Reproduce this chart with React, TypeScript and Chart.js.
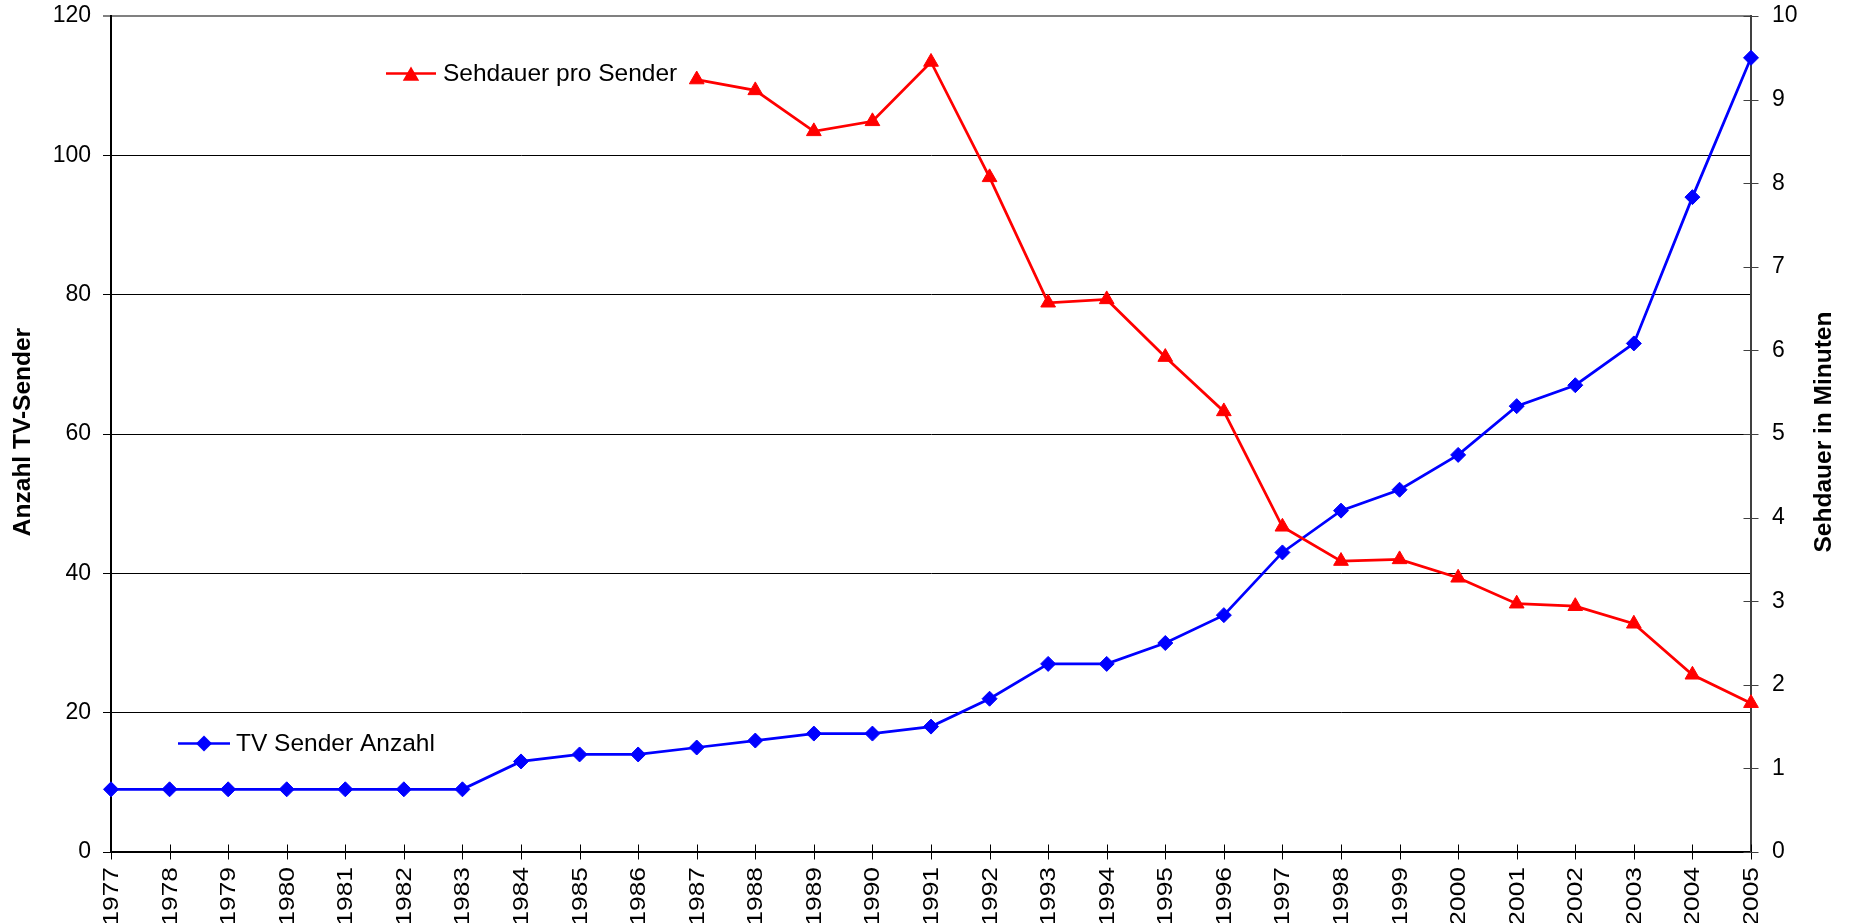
import React, { useEffect, useRef } from 'react';
import { Chart, registerables } from 'chart.js';

Chart.register(...registerables);

const years = [
  '1977', '1978', '1979', '1980', '1981', '1982', '1983', '1984', '1985', '1986',
  '1987', '1988', '1989', '1990', '1991', '1992', '1993', '1994', '1995', '1996',
  '1997', '1998', '1999', '2000', '2001', '2002', '2003', '2004', '2005',
];

const tvSenderAnzahl = [
  9, 9, 9, 9, 9, 9, 9, 13, 14, 14,
  15, 16, 17, 17, 18, 22, 27, 27, 30, 34,
  43, 49, 52, 57, 64, 67, 73, 94, 114,
];

const sehdauerProSender: (number | null)[] = [
  null, null, null, null, null, null, null, null, null, null,
  9.24, 9.11, 8.62, 8.74, 9.45, 8.07, 6.57, 6.61, 5.92, 5.27,
  3.89, 3.48, 3.50, 3.28, 2.97, 2.94, 2.73, 2.12, 1.78,
];

const leftTicks = [0, 20, 40, 60, 80, 100, 120];
const rightTicks = [0, 1, 2, 3, 4, 5, 6, 7, 8, 9, 10];

const labelBlue = 'TV Sender Anzahl';
const labelRed = 'Sehdauer pro Sender';
const titleLeft = 'Anzahl TV-Sender';
const titleRight = 'Sehdauer in Minuten';

const FONT = "'Liberation Sans', Arial, Helvetica, sans-serif";
const BLUE = '#0000FF';
const RED = '#FF0000';

function drawDiamond(ctx: CanvasRenderingContext2D, cx: number, cy: number, r: number, color: string) {
  ctx.beginPath();
  ctx.moveTo(cx, cy - r);
  ctx.lineTo(cx + r, cy);
  ctx.lineTo(cx, cy + r);
  ctx.lineTo(cx - r, cy);
  ctx.closePath();
  ctx.fillStyle = color;
  ctx.fill();
}

function drawTriangle(ctx: CanvasRenderingContext2D, cx: number, cy: number, r: number, color: string) {
  const s = r * Math.sin(Math.PI / 3);
  ctx.beginPath();
  ctx.moveTo(cx, cy - r);
  ctx.lineTo(cx + s, cy + r / 2);
  ctx.lineTo(cx - s, cy + r / 2);
  ctx.closePath();
  ctx.fillStyle = color;
  ctx.fill();
}

const overlayPlugin = {
  id: 'overlayPlugin',
  afterDraw(chart: any) {
    const ctx: CanvasRenderingContext2D = chart.ctx;
    const area = chart.chartArea;
    const xs = chart.scales.x;
    const y1 = chart.scales.y1;
    ctx.save();

    // crossing ticks on the category axis
    ctx.strokeStyle = '#000';
    ctx.lineWidth = 1;
    xs.ticks.forEach((_t: any, i: number) => {
      const px = Math.round(xs.getPixelForTick(i)) + 0.5;
      ctx.beginPath();
      ctx.moveTo(px, area.bottom - 7.5);
      ctx.lineTo(px, area.bottom + 7.5);
      ctx.stroke();
    });

    // category labels, rotated and drawn at the scale's tick positions
    ctx.fillStyle = '#000';
    ctx.font = `22px ${FONT}`;
    ctx.textAlign = 'right';
    ctx.textBaseline = 'middle';
    xs.ticks.forEach((t: any, i: number) => {
      const px = xs.getPixelForTick(i);
      ctx.save();
      ctx.translate(px + 1, area.bottom + 15);
      ctx.rotate(-Math.PI / 2);
      ctx.scale(1.2, 1);
      ctx.fillText(String(xs.getLabelForValue(t.value)), 0, 0);
      ctx.restore();
    });

    // crossing ticks on the right axis
    ctx.strokeStyle = '#404040';
    y1.ticks.forEach((t: any) => {
      const py = Math.round(y1.getPixelForValue(t.value)) + 0.5;
      ctx.beginPath();
      ctx.moveTo(area.right - 7.5, py);
      ctx.lineTo(area.right + 7.5, py);
      ctx.stroke();
    });

    // axis titles
    ctx.fillStyle = '#000';
    ctx.font = `bold 24.5px ${FONT}`;
    ctx.textAlign = 'center';
    ctx.textBaseline = 'middle';
    ctx.save();
    ctx.translate(23, 432);
    ctx.rotate(-Math.PI / 2);
    ctx.fillText(titleLeft, 0, 0);
    ctx.restore();
    ctx.save();
    ctx.translate(1824, 432);
    ctx.rotate(-Math.PI / 2);
    ctx.fillText(titleRight, 0, 0);
    ctx.restore();

    // inline legends
    ctx.lineWidth = 2.5;
    ctx.strokeStyle = RED;
    ctx.beginPath();
    ctx.moveTo(386, 73.5);
    ctx.lineTo(436, 73.5);
    ctx.stroke();
    drawTriangle(ctx, 411, 76, 9.5, RED);

    ctx.strokeStyle = BLUE;
    ctx.beginPath();
    ctx.moveTo(178, 743.5);
    ctx.lineTo(230, 743.5);
    ctx.stroke();
    drawDiamond(ctx, 204, 743.5, 8, BLUE);

    ctx.fillStyle = '#000';
    ctx.font = `24.5px ${FONT}`;
    ctx.textAlign = 'left';
    ctx.textBaseline = 'alphabetic';
    ctx.fillText(labelRed, 443, 81);
    ctx.fillText(labelBlue, 236, 751);

    ctx.restore();
  },
};

export default function App() {
  const canvasRef = useRef<HTMLCanvasElement | null>(null);

  useEffect(() => {
    const canvas = canvasRef.current;
    if (!canvas) return;
    const chart = new Chart(canvas, {
      type: 'line',
      data: {
        labels: years,
        datasets: [
          {
            label: labelBlue,
            data: tvSenderAnzahl,
            yAxisID: 'y',
            borderColor: BLUE,
            backgroundColor: BLUE,
            borderWidth: 2.75,
            pointStyle: 'rectRot',
            pointRadius: 7.5,
            pointBorderWidth: 1,
            pointBackgroundColor: BLUE,
            pointBorderColor: BLUE,
            tension: 0,
            fill: false,
            order: 1,
          },
          {
            label: labelRed,
            data: sehdauerProSender,
            yAxisID: 'y1',
            borderColor: RED,
            backgroundColor: RED,
            borderWidth: 2.75,
            pointStyle: 'triangle',
            pointRadius: 8.5,
            pointBorderWidth: 1,
            pointBackgroundColor: RED,
            pointBorderColor: RED,
            tension: 0,
            fill: false,
            spanGaps: false,
            order: 0,
          },
        ],
      },
      options: {
        responsive: false,
        animation: false,
        devicePixelRatio: 1,
        layout: { padding: { top: 16, left: 0, right: 0, bottom: 0 } },
        plugins: {
          legend: { display: false },
          tooltip: { enabled: false },
        },
        events: [],
        scales: {
          x: {
            type: 'category',
            offset: false,
            grid: { display: false, drawTicks: false },
            border: { display: true, color: '#000', width: 2 },
            ticks: {
              display: false,
              autoSkip: false,
              maxRotation: 0,
            },
            afterFit: (s: any) => {
              s.height = 71;
              s.paddingLeft = 0;
              s.paddingRight = 0;
              s.paddingTop = 0;
              s.paddingBottom = 0;
            },
          },
          y: {
            type: 'linear',
            position: 'left',
            min: 0,
            max: 120,
            afterBuildTicks: (s: any) => {
              s.ticks = leftTicks.map((v) => ({ value: v }));
            },
            grid: {
              color: (c: any) => (c.tick && c.tick.value === 120 ? '#808080' : '#000'),
              lineWidth: (c: any) => (c.tick && c.tick.value === 120 ? 2 : 1),
              drawTicks: true,
              tickLength: 8,
              tickColor: '#000',
              tickWidth: 1,
            },
            border: { display: true, color: '#000', width: 2 },
            ticks: {
              padding: 12,
              color: '#000',
              font: { family: FONT, size: 23 },
            },
            afterFit: (s: any) => {
              s.width = 111;
              s.paddingTop = 0;
              s.paddingBottom = 0;
            },
          },
          y1: {
            type: 'linear',
            position: 'right',
            min: 0,
            max: 10,
            afterBuildTicks: (s: any) => {
              s.ticks = rightTicks.map((v) => ({ value: v }));
            },
            grid: { drawOnChartArea: false, drawTicks: false },
            border: { display: true, color: '#404040', width: 2 },
            ticks: {
              padding: 21,
              color: '#000',
              font: { family: FONT, size: 23 },
            },
            afterFit: (s: any) => {
              s.width = 98;
              s.paddingTop = 0;
              s.paddingBottom = 0;
            },
          },
        },
      },
      plugins: [overlayPlugin],
    });
    return () => {
      chart.destroy();
    };
  }, []);

  return (
    <div
      style={{
        position: 'fixed',
        left: 0,
        top: 0,
        width: 1849,
        height: 923,
        background: '#fff',
        overflow: 'hidden',
      }}
    >
      <canvas ref={canvasRef} width={1849} height={923} style={{ display: 'block' }} />
    </div>
  );
}
